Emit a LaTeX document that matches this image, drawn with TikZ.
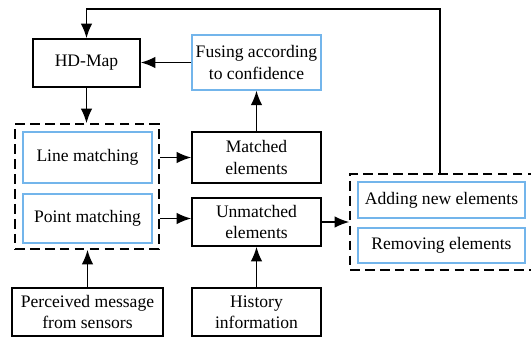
\documentclass[tikz,border=0pt]{standalone}
\usepackage{fontspec}
\setmainfont{Liberation Serif}
\usepackage{tikz}
\usetikzlibrary{arrows.meta}
\usetikzlibrary{positioning}
\definecolor{lblue}{rgb}{0.45, 0.71, 0.92}
\tikzset{box/.style = {draw, line width=0.9pt, align=center, inner sep=0pt,
                       minimum width=2.58cm, minimum height=0.96cm},
         bluebox/.style = {box, draw=lblue, line width=0.7pt},
         group/.style = {draw, line width=0.9pt, dash pattern=on 5.5pt off 3pt,
                         inner sep=0pt},
         arr/.style = {line width=0.9pt, -{Latex[length=2.9mm, width=2.3mm]}}}

\begin{document}
\begin{tikzpicture}[font=\fontsize{10}{12}\selectfont]
    \useasboundingbox (0, 0) rectangle (10.62, 6.74);

    % left column
    \node [box, minimum width=2.14cm] (hdmap) at (1.73, 5.48) {HD-Map};
    \node [group, minimum width=2.88cm, minimum height=2.5cm] (match) at (1.74, 3.01) {};
    \node [bluebox, minimum height=1.02cm] (linematch) at (1.75, 3.59) {Line matching};
    \node [bluebox, minimum height=0.98cm] (pointmatch) at (1.75, 2.37) {Point matching};
    \node [box, minimum width=3.02cm] (sensors) at (1.75, 0.5) {Perceived message\\from sensors};

    % middle column
    \node [bluebox, minimum height=1.1cm] (fusing) at (5.13, 5.49) {Fusing according\\to confidence};
    \node [box, minimum height=1.02cm] (matched) at (5.13, 3.59) {Matched\\elements};
    \node [box] (unmatched) at (5.13, 2.3) {Unmatched\\elements};
    \node [box] (history) at (5.13, 0.5) {History\\information};

    % right column
    \node [group, minimum width=3.9cm, minimum height=1.92cm] (update) at (8.95, 2.3) {};
    \node [bluebox, minimum width=3.34cm, minimum height=0.72cm] (adding) at (8.83, 2.74) {Adding new elements};
    \node [bluebox, minimum width=3.34cm, minimum height=0.7cm] (removing) at (8.83, 1.83) {Removing elements};

    \coordinate (loop) at (8.8, 6.56);

    \draw [arr] (fusing.west) -- (hdmap.east |- fusing.west);
    \draw [arr] (hdmap.south) -- (hdmap.south |- match.north);
    \draw [arr] (matched.north) -- (fusing.south);
    \draw [arr] (linematch.east -| match.east) -- (matched.west |- linematch.east);
    \draw [arr] (pointmatch.east -| match.east) -- (unmatched.west |- pointmatch.east);
    \draw [arr] (unmatched.east) -- (unmatched.east -| update.west);
    \draw [arr] (sensors.north) -- (sensors.north |- match.south);
    \draw [arr] (history.north) -- (unmatched.south);
    \draw [arr] (update.north -| loop) -- (loop) -| (hdmap.north);
\end{tikzpicture}
\end{document}
